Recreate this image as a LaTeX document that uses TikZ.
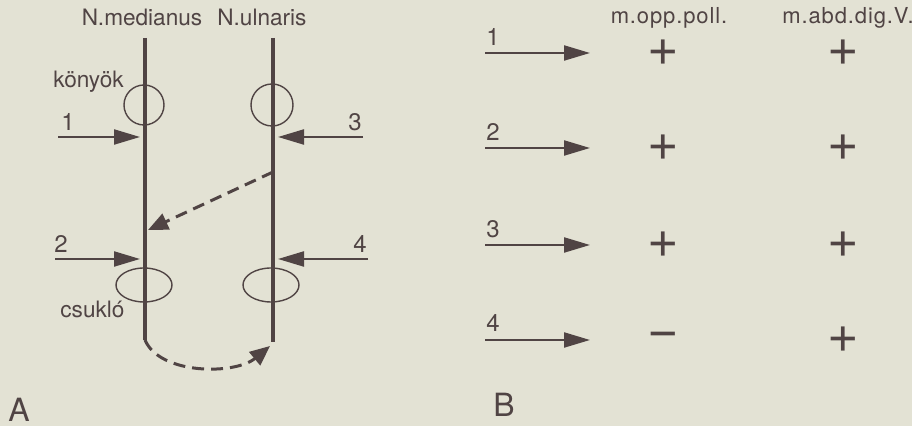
\documentclass[tikz,border=0pt]{standalone}
\usepackage{fontspec}
\setmainfont{TeX Gyre Heros}
\newfontfamily\widefont[LetterSpace=4]{TeX Gyre Heros}
\usetikzlibrary{shapes.geometric, arrows.meta, positioning, calc}
\definecolor{ink}{RGB}{80,68,68}
\definecolor{paper}{RGB}{227,226,212}
\tikzset{
    nerve/.style={line width=2.2pt, draw=ink},
    stim/.style={-{Triangle[length=13pt, width=7.5pt]}, line width=1.1pt, draw=ink},
    jump/.style={-{Triangle[length=10pt, width=8.5pt]}, line width=1.5pt, draw=ink, dash pattern=on 6pt off 3.5pt},
    joint/.style={draw=ink, line width=0.7pt, inner sep=0pt},
}

\begin{document}
\begin{tikzpicture}[
    x=0.5pt, y=-0.5pt,
    lbl/.style={font=\fontsize{11.3}{13}\selectfont, text=ink, inner sep=0pt, anchor=base},
    muscle/.style={lbl, font=\widefont\fontsize{11}{13}\selectfont},
    site/.style={lbl, anchor=base west},
    num/.style={font=\fontsize{12}{14}\selectfont, text=ink, inner sep=0pt, anchor=base west},
    sign/.style={font=\fontsize{27}{27}\selectfont, text=ink, inner sep=0pt},
    panel/.style={font=\fontsize{16}{18}\selectfont, text=ink, inner sep=0pt, anchor=base west},
    >=Stealth
]

\fill[paper] (0,0) rectangle (912,426);
\useasboundingbox (0,0) rectangle (912,426);

% A: stimulation sites along the two nerves
\node[lbl] (nmed) at (142,26) {N.medianus};
\node[lbl] (nuln) at (262,26) {N.ulnaris};

\coordinate (medtop) at (145,38);
\coordinate (medbot) at (145,340);
\coordinate (ulntop) at (273,38);
\coordinate (ulnbot) at (273,342);
\draw[nerve] (medtop) -- (medbot);
\draw[nerve] (ulntop) -- (ulnbot);

\node[joint, circle, minimum size=20pt] (kmed) at (144,105) {};
\node[joint, circle, minimum size=21pt] (kuln) at (272,105) {};
\node[joint, ellipse, minimum width=28pt, minimum height=17pt] (cmed) at (144,285) {};
\node[joint, ellipse, minimum width=28pt, minimum height=17pt] (culn) at (271,285) {};

\node[site] (elbow) at (53,88) {könyök};
\node[site] (wrist) at (60,318) {csukló};

\coordinate (s1) at (58,137);
\coordinate (s2) at (55,259);
\coordinate (s3) at (363,137);
\coordinate (s4) at (368,259);
\node[num] (n1) at (61,131) {1};
\node[num] (n2) at (54,253) {2};
\node[num] (n3) at (348,131) {3};
\node[num] (n4) at (353,253) {4};
\draw[stim] (s1) -- ($(s1 -| medtop)+(-5,0)$);
\draw[stim] (s2) -- ($(s2 -| medtop)+(-5,0)$);
\draw[stim] (s3) -- ($(s3 -| ulntop)+(5,0)$);
\draw[stim] (s4) -- ($(s4 -| ulntop)+(5,0)$);

\coordinate (cross) at (273,172);
\coordinate (hit) at (148,230);
\draw[jump] (cross) -- (hit);
\draw[jump] (medbot) .. controls +(15,35) and +(-35,29) .. ($(ulnbot)+(-3,4)$);

\node[panel] (pa) at (8,422) {A};

% B: responses of the two muscles
\node[muscle] (opp) at (669,24) {m.opp.poll.};
\node[muscle] (abd) at (848,24) {m.abd.dig.V.};

\coordinate (r1) at (485,53);  \coordinate (t1) at (590,53);
\coordinate (r2) at (485,148); \coordinate (t2) at (590,148);
\coordinate (r3) at (485,245); \coordinate (t3) at (590,245);
\coordinate (r4) at (485,340); \coordinate (t4) at (590,340);
\node[num] (m1) at (486,46) {1};
\node[num] (m2) at (486,141) {2};
\node[num] (m3) at (486,238) {3};
\node[num] (m4) at (486,332) {4};
\draw[stim] (r1) -- (t1);
\draw[stim] (r2) -- (t2);
\draw[stim] (r3) -- (t3);
\draw[stim] (r4) -- (t4);

\node[sign] (opp1) at (663,53) {+};
\node[sign] (opp2) at (663,148) {+};
\node[sign] (opp3) at (663,245) {+};
\node[sign] (opp4) at (663,340) {−};
\node[sign] (abd1) at (843,53) {+};
\node[sign] (abd2) at (843,148) {+};
\node[sign] (abd3) at (843,245) {+};
\node[sign] (abd4) at (843,340) {+};

\node[panel] (pb) at (493,417) {B};

\end{tikzpicture}
\end{document}
